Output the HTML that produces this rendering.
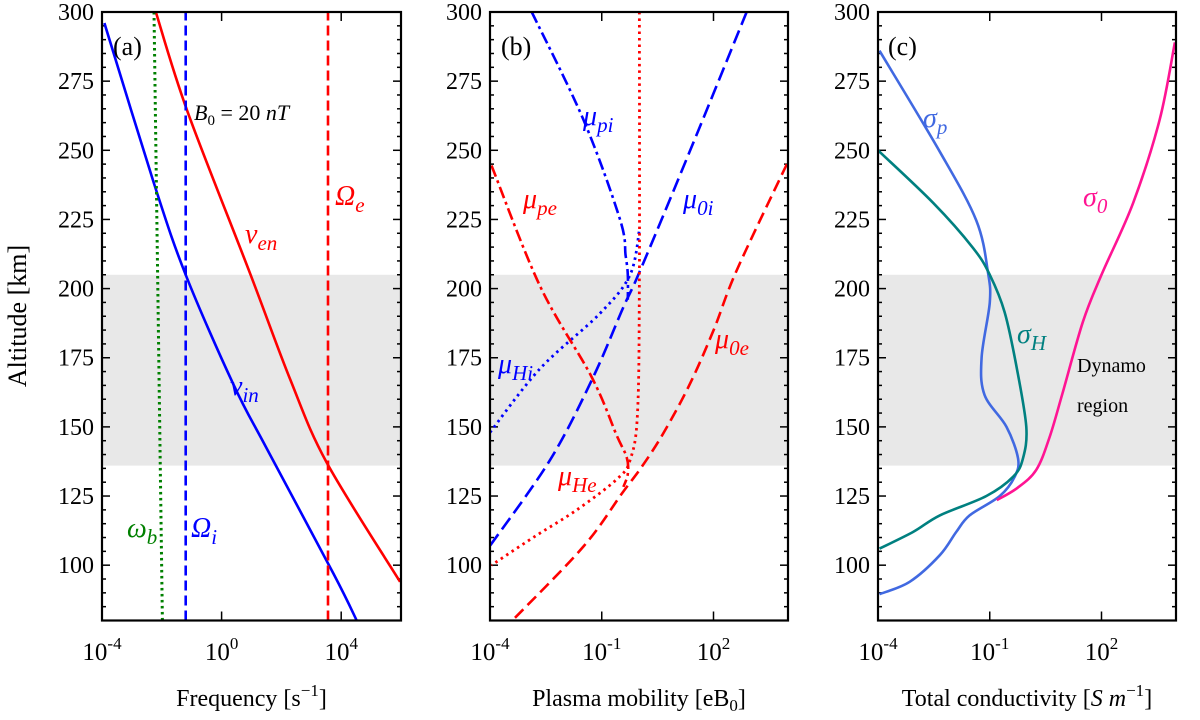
<!DOCTYPE html>
<html><head><meta charset="utf-8"><style>
body{margin:0;background:#fff}
svg{display:block;font-family:"Liberation Serif",serif}
</style></head><body>
<svg id="fig" width="1200" height="720" viewBox="0 0 1200 720"></svg>
<script>
// ---- data (log10 x, altitude km) ----
const altTicks=[100,125,150,175,200,225,250,275,300];
const dynamoBand=[136,205];
// panel a
const nuInX=[-3.92,-2.26,-1.2,0.41,1.52,3.74,4.52];
const nuInY=[296,238,205,165,142,97,80];
const nuEnX=[-2.2,-1.14,0.97,2.3,3.52,5.97];
const nuEnY=[300,264,205,167,137,94];
const omegaBX=[-2.26,-1.98];
const omegaBY=[300,80];
const OmegaI=-1.2, OmegaE=3.56;
const aTicks=[-4,0,4];
// panel b
const muPiX=[-2.88,-1.49,-0.51,-0.36,-0.3,-0.3];
const muPiY=[300,261,225,212,205,196];
const mu0iX=[2.89,1.37,0.03,-0.42,-1.23,-2.39,-4];
const mu0iY=[300,249.8,206.5,193.3,168,138,107];
const muHiX=[-4,-2.66,-1.05,-0.24,0.02];
const muHiY=[148,171,191,205,222];
const muPeX=[-3.96,-2.66,-1.27,-0.6,-0.33,-0.3,-0.42];
const muPeY=[244.5,201,168,147,139,133,128.3];
const mu0eX=[3.97,2.62,2.0,1.37,0.65,0.07,-0.46,-1.5,-3.4];
const mu0eY=[245,206.5,184.9,165.6,147.6,135.5,125.9,106.6,80];
const muHeX=[0.01,0.01,-0.04,-0.24,-0.6,-1.67,-2.84,-3.96];
const muHeY=[300,205,155,138,131,120,110,100];
const bTicks=[-4,-1,2];
// panel c
const sigPX=[-3.96,-2.34,-1.36,-1.05,-1.0,-1.22,-1.14,-0.55,-0.24,-0.33,-0.73,-1.54,-1.9,-2.34,-3.15,-3.96];
const sigPY=[286,249.5,224.6,206,195,175,161.6,150,138.5,132,125,118,112,103.6,94,89.5];
const sigHX=[-4,-2.52,-1.45,-1.0,-0.6,-0.28,-0.02,-0.11,-0.37,-1.09,-2.34,-3.06,-3.96];
const sigHY=[250,231,214.7,205,191.5,171.6,150,138.5,132,125,118,112,106];
const sig0X=[-0.81,-0.25,0.25,0.6,0.95,1.5,2,2.85,3.56,3.97];
const sig0Y=[123.5,128,134.5,146,162,188,205,231,261,289];
const cTicks=[-4,-1,2];

const NS='http://www.w3.org/2000/svg';
const svg=document.getElementById('fig');
function mk(tag,attrs,parent,txt){const e=document.createElementNS(NS,tag);for(const k in attrs)e.setAttribute(k,attrs[k]);if(txt!==undefined)e.textContent=txt;(parent||svg).appendChild(e);return e;}
const plotTop=12,plotBot=620.5,altMin=80,altMax=300;
function yS(a){return plotBot-(a-altMin)/(altMax-altMin)*(plotBot-plotTop);}
function panel(name,x0,x1,lmin,lmax,ticks,xlabelHTML){
  const g=mk('g',{});
  
  
  const xs=v=>x0+(v-lmin)/(lmax-lmin)*(x1-x0);
  const band=mk('rect',{x:x0,y:yS(dynamoBand[1]),width:x1-x0,height:yS(dynamoBand[0])-yS(dynamoBand[1]),fill:'#e8e8e8'},g);
  
  
  for(let a=80;a<=300;a+=5){const y=yS(a);const maj=altTicks.includes(a);const L=maj?8:4;
    mk('line',{x1:x0,x2:x0+L,y1:y,y2:y,stroke:'#000','stroke-width':1.5},g);
    mk('line',{x1:x1,x2:x1-L,y1:y,y2:y,stroke:'#000','stroke-width':1.5},g);}
  altTicks.forEach(a=>{const t=mk('text',{x:x0-8,y:yS(a)+8,'text-anchor':'end','font-size':24},g,String(a));
    });
  ticks.forEach(v=>{const x=xs(v);
    mk('line',{x1:x,x2:x,y1:plotBot,y2:plotBot-9,stroke:'#000','stroke-width':1.5},g);
    mk('line',{x1:x,x2:x,y1:plotTop,y2:plotTop+9,stroke:'#000','stroke-width':1.5},g);
    const t=mk('text',{x:x,y:660,'text-anchor':'middle','font-size':25},g);
    
    mk('tspan',{},t,'10');mk('tspan',{dy:-11,'font-size':17},t,String(v));});
  const xl=mk('text',{x:(x0+x1)/2,y:706,'text-anchor':'middle','font-size':24},g);
  
  xlabelHTML(xl);
  return {g,xs,x0,x1};
}
function curve(p,name,X,Y,color,dash,w){
  const d=X.map((v,i)=>(i?'L':'M')+p.xs(v).toFixed(1)+','+yS(Y[i]).toFixed(1)).join(' ');
  const e=mk('path',{d:d,fill:'none',stroke:color,'stroke-width':w||2.6,'stroke-dasharray':dash||'none','stroke-linejoin':'round'},p.g);
  
  
  return e;
}
function smooth(p,name,X,Y,color,dash,w){
  const pts=X.map((v,i)=>[p.xs(v),yS(Y[i])]);
  let d='M'+pts[0][0]+','+pts[0][1];
  for(let i=0;i<pts.length-1;i++){const p0=pts[i-1]||pts[i],p1=pts[i],p2=pts[i+1],p3=pts[i+2]||p2;
    const c1=[p1[0]+(p2[0]-p0[0])/6,p1[1]+(p2[1]-p0[1])/6],c2=[p2[0]-(p3[0]-p1[0])/6,p2[1]-(p3[1]-p1[1])/6];
    d+=` C${c1[0].toFixed(1)},${c1[1].toFixed(1)} ${c2[0].toFixed(1)},${c2[1].toFixed(1)} ${p2[0].toFixed(1)},${p2[1].toFixed(1)}`;}
  const e=mk('path',{d:d,fill:'none',stroke:color,'stroke-width':w||2.6,'stroke-dasharray':dash||'none'},p.g);
  
  
}
function frame(p){mk('rect',{x:p.x0,y:plotTop,width:p.x1-p.x0,height:plotBot-plotTop,fill:'none',stroke:'#000','stroke-width':2.2},p.g);}
function label(p,name,x,y,main,sub,color,size){
  const t=mk('text',{x:x,y:y,fill:color,'font-size':size||28,'font-style':'italic'},p.g);
  
  
  mk('tspan',{},t,main);
  if(sub)mk('tspan',{dy:7,'font-size':(size||28)*0.75},t,sub);
  return t;
}
function plain(p,name,x,y,txt,size){const t=mk('text',{x:x,y:y,'font-size':size||26},p.g,txt);
  return t;}

// panel a
const A=panel('panel-a',102,401,-4,6,aTicks,t=>{mk('tspan',{},t,'Frequency [s');mk('tspan',{dy:-10,'font-size':17},t,'−1');mk('tspan',{dy:10},t,']');});
smooth(A,'nu-in-line',nuInX,nuInY,'#0000ff');
smooth(A,'nu-en-line',nuEnX,nuEnY,'#ff0000');
curve(A,'omega-b-line',omegaBX,omegaBY,'#008000','2.5,3.5',3);
curve(A,'Omega-i-line',[OmegaI,OmegaI],[80,300],'#0000ff','10,5',2.6);
curve(A,'Omega-e-line',[OmegaE,OmegaE],[80,300],'#ff0000','10,5',2.6);
frame(A);
plain(A,'panel-a-tag',113,55,'(a)');
const b0=mk('text',{x:194,y:120,'font-size':22,'font-style':'italic'},A.g);

mk('tspan',{},b0,'B');mk('tspan',{dy:5,'font-size':15,'font-style':'normal'},b0,'0');mk('tspan',{dy:-5,'font-style':'normal'},b0,' = 20 ');mk('tspan',{},b0,'nT');
label(A,'Omega-e-label',335,205,'Ω','e','#ff0000');
label(A,'nu-en-label',245,243,'ν','en','#ff0000');
label(A,'nu-in-label',230,395,'ν','in','#0000ff');
label(A,'omega-b-label',127,537,'ω','b','#008000');
label(A,'Omega-i-label',191,537,'Ω','i','#0000ff');
const yl=mk('text',{x:0,y:0,'font-size':26,'text-anchor':'middle',transform:'translate(26,316) rotate(-90)'});
yl.textContent='Altitude [km]';

// panel b
const B=panel('panel-b',490,788,-4,4,bTicks,t=>{mk('tspan',{},t,'Plasma mobility [eB');mk('tspan',{dy:5,'font-size':17},t,'0');mk('tspan',{dy:-5},t,']');});
smooth(B,'mu-pi-line',muPiX,muPiY,'#0000ff','12,4,3,4');
smooth(B,'mu-0i-line',mu0iX,mu0iY,'#0000ff','14,6');
smooth(B,'mu-hi-line',muHiX,muHiY,'#0000ff','2.5,4',2.8);
smooth(B,'mu-pe-line',muPeX,muPeY,'#ff0000','12,4,3,4');
smooth(B,'mu-0e-line',mu0eX,mu0eY,'#ff0000','12,6');
smooth(B,'mu-he-line',muHeX,muHeY,'#ff0000','2.5,4',2.8);
frame(B);
plain(B,'panel-b-tag',501,55,'(b)');
label(B,'mu-pi-label',583,125,'μ','pi','#0000ff');
label(B,'mu-0i-label',683,208,'μ','0i','#0000ff');
label(B,'mu-pe-label',523,208,'μ','pe','#ff0000');
label(B,'mu-hi-label',498,373,'μ','Hi','#0000ff');
label(B,'mu-0e-label',715,348,'μ','0e','#ff0000');
label(B,'mu-he-label',558,485,'μ','He','#ff0000');

// panel c
const C=panel('panel-c',878,1176,-4,4,cTicks,t=>{mk('tspan',{},t,'Total conductivity [');mk('tspan',{'font-style':'italic'},t,'S m');mk('tspan',{dy:-10,'font-size':17},t,'−1');mk('tspan',{dy:10},t,']');});
smooth(C,'sigma-p-line',sigPX,sigPY,'#4169e1');
smooth(C,'sigma-h-line',sigHX,sigHY,'#008080');
smooth(C,'sigma-0-line',sig0X,sig0Y,'#ff1493');
frame(C);
plain(C,'panel-c-tag',888,55,'(c)');
label(C,'sigma-p-label',923,127,'σ','p','#4169e1');
label(C,'sigma-0-label',1083,206,'σ','0','#ff1493');
label(C,'sigma-h-label',1017,343,'σ','H','#008080');
plain(C,'dynamo-label',1077,372,'Dynamo',20);
plain(C,'region-label',1077,412,'region',20);
</script>
</body></html>
